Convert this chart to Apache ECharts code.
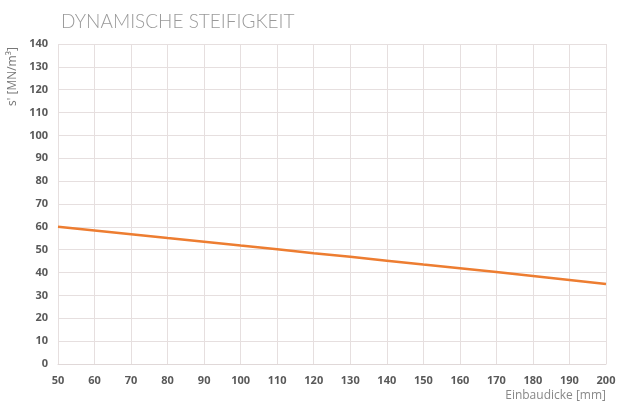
<!DOCTYPE html>
<html>
<head>
<meta charset="utf-8">
<script src="https://cdn.jsdelivr.net/npm/echarts@6/dist/echarts.min.js"></script>
<style>
  html, body { margin: 0; padding: 0; background: #fff; }
  #chart { width: 618px; height: 401px; }
</style>
</head>
<body>
<div id="chart"></div>
<script>
// Einbaudicke [mm] und s' [MN/m³]
var thickness = [50, 60, 70, 80, 90, 100, 110, 120, 130, 140, 150, 160, 170, 180, 190, 200];
var stiffness = [60, 58.4, 56.8, 55.1, 53.5, 51.8, 50.2, 48.5, 46.9, 45.2, 43.5, 41.9, 40.2, 38.5, 36.8, 35];

var chartTitle = "DYNAMISCHE STEIFIGKEIT";
var yName = "s' [MN/m³]";
var xName = "Einbaudicke [mm]";

var myChart = echarts.init(document.getElementById("chart"));

var labelStyle = {
  color: "#595959",
  fontSize: 11,
  fontWeight: "bold",
  fontFamily: "Open Sans",
};
var gridLine = { lineStyle: { color: "#e6dfdf", width: 1 } };

var points = thickness.map(function (t, i) {
  return [t, stiffness[i]];
});

var option = {
  animation: false,
  title: {
    text: chartTitle,
    left: 56,
    top: 7,
    textStyle: {
      color: "#9a9a9a",
      fontSize: 19,
      fontWeight: 300,
      fontFamily: "Lato",
    },
  },
  grid: { left: 58, right: 12, top: 44, bottom: 37, outerBoundsMode: "none" },
  xAxis: {
    type: "value",
    min: 50,
    max: 200,
    interval: 10,
    name: xName,
    nameLocation: "end",
    nameGap: 0,
    nameTextStyle: {
      color: "#888",
      fontSize: 12,
      fontFamily: "Open Sans",
      align: "right",
      verticalAlign: "top",
      padding: [26, 0, 0, 0],
    },
    axisLine: { lineStyle: { color: "#e0d8d8" } },
    axisTick: { show: false },
    axisLabel: Object.assign({ margin: 11 }, labelStyle),
    splitLine: gridLine,
  },
  yAxis: {
    type: "value",
    min: 0,
    max: 140,
    interval: 10,
    axisLine: { show: false },
    axisTick: { show: false },
    axisLabel: Object.assign({ margin: 10 }, labelStyle),
    splitLine: gridLine,
  },
  graphic: [
    {
      type: "text",
      x: 7,
      y: 106,
      rotation: Math.PI / 2,
      style: {
        text: yName,
        fill: "#777",
        fontSize: 12,
        fontFamily: "Open Sans",
        align: "left",
        verticalAlign: "top",
      },
    },
  ],
  series: [
    {
      type: "line",
      data: points,
      symbol: "none",
      lineStyle: { color: "#ed7d31", width: 2.5 },
    },
  ],
};

myChart.setOption(option);
</script>
</body>
</html>
